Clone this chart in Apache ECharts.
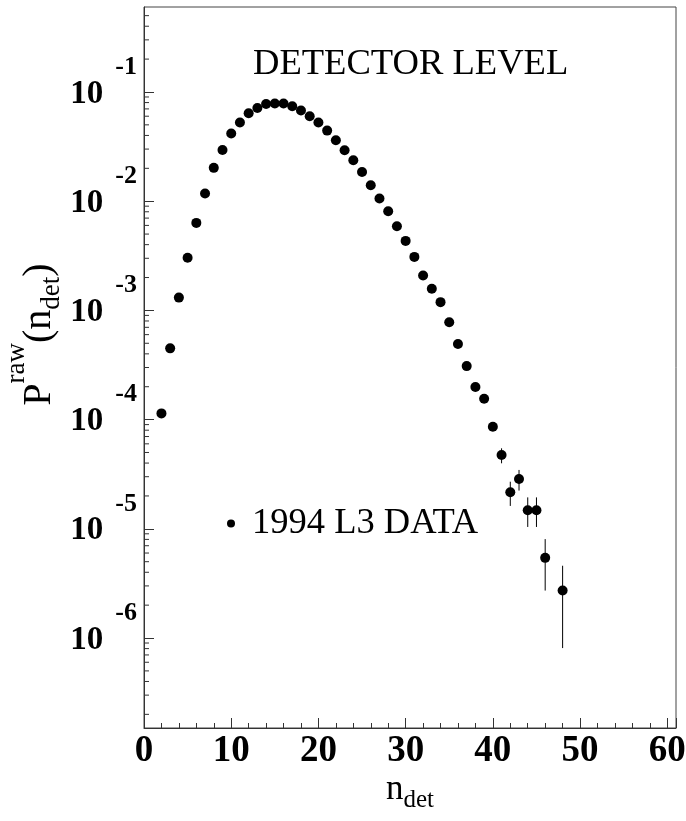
<!DOCTYPE html>
<html>
<head>
<meta charset="utf-8">
<script src="https://cdn.jsdelivr.net/npm/echarts@6/dist/echarts.min.js"></script>
<style>
  html, body { margin: 0; padding: 0; background: #fff; }
  #chart { width: 686px; height: 821px; }
</style>
</head>
<body>
<div id="chart"></div>
<script>
// measured multiplicity distribution (n_det = 47 has no entry)
const nDet = [2, 3, 4, 5, 6, 7, 8, 9, 10, 11, 12, 13, 14, 15, 16, 17, 18, 19, 20, 21, 22, 23, 24, 25,
  26, 27, 28, 29, 30, 31, 32, 33, 34, 35, 36, 37, 38, 39, 40, 41, 42, 43, 44, 45, 46, 48];
const prob = [1.14e-4, 4.49e-4, 1.31e-3, 3.03e-3, 6.33e-3, 1.175e-2, 2.02e-2, 2.94e-2, 4.16e-2, 5.25e-2,
  6.38e-2, 7.14e-2, 7.77e-2, 7.83e-2, 7.83e-2, 7.40e-2, 6.76e-2, 6.00e-2, 5.25e-2, 4.43e-2, 3.62e-2,
  2.93e-2, 2.37e-2, 1.85e-2, 1.40e-2, 1.06e-2, 8.1e-3, 5.9e-3, 4.33e-3, 3.09e-3, 2.09e-3, 1.58e-3,
  1.19e-3, 7.8e-4, 4.92e-4, 3.09e-4, 1.99e-4, 1.55e-4, 8.6e-5, 4.74e-5, 2.16e-5, 2.86e-5, 1.48e-5,
  1.48e-5, 5.42e-6, 2.72e-6];

// visible error bars (the others are hidden by the markers)
const errN = [41, 42, 43, 44, 45, 46, 48];
const errLow = [3.98e-5, 1.62e-5, 2.24e-5, 1.04e-5, 1.04e-5, 2.72e-6, 8.09e-7];
const errHigh = [5.46e-5, 2.70e-5, 3.46e-5, 1.94e-5, 1.94e-5, 8.05e-6, 4.59e-6];

// axis settings
const xTicks = [0, 10, 20, 30, 40, 50, 60];
const yDecades = [-7, -6, -5, -4, -3, -2, -1];
const yMin = 1.5e-7, yMax = 0.6;

const serif = '"Liberation Serif", "DejaVu Serif", serif';

// minor ticks 2..9 x 10^n on the y axis
const yMinor = [];
yDecades.forEach(function (e) {
  for (let k = 2; k <= 9; k++) {
    const v = k * Math.pow(10, e);
    if (v > yMin && v < yMax) yMinor.push([0, v]);
  }
});

const chart = echarts.init(document.getElementById('chart'));

const option = {
  backgroundColor: '#fff',
  animation: false,
  title: {
    text: 'DETECTOR LEVEL',
    left: 253,
    top: 46,
    padding: 0,
    textStyle: { fontFamily: serif, fontSize: 36.6, fontWeight: 'normal', color: '#000', lineHeight: 36 }
  },
  legend: {
    data: ['1994 L3 DATA'],
    left: 227,
    top: 505,
    padding: 0,
    icon: 'circle',
    itemWidth: 8,
    itemHeight: 8,
    selectedMode: false,
    itemStyle: { opacity: 1 },
    textStyle: { fontFamily: serif, fontSize: 36.5, color: '#000', lineHeight: 36, padding: [0, 0, 0, 12] }
  },
  grid: {
    left: 144, right: 10, top: 7, bottom: 93,
    show: true, borderColor: '#444', borderWidth: 1,
    outerBoundsMode: 'none'
  },
  xAxis: {
    type: 'value',
    min: 0,
    max: 61,
    interval: 10,
    name: '{n|n}{d|det}',
    nameLocation: 'middle',
    nameGap: 38,
    nameMoveOverlap: false,
    nameTextStyle: {
      rich: {
        n: { fontFamily: serif, fontSize: 35, color: '#000' },
        d: { fontFamily: serif, fontSize: 25, color: '#000', padding: [22, 0, 0, 0] }
      }
    },
    axisLine: { lineStyle: { color: '#333', width: 1 } },
    axisTick: { inside: true, length: 10, lineStyle: { color: '#333' } },
    minorTick: { show: true, splitNumber: 5, length: 5, lineStyle: { color: '#333' } },
    splitLine: { show: false },
    axisLabel: {
      margin: 5,
      fontFamily: serif, fontSize: 37, fontWeight: 'bold', color: '#000',
      formatter: function (v) { return xTicks.indexOf(v) >= 0 ? String(v) : ''; }
    }
  },
  yAxis: {
    type: 'log',
    logBase: 10,
    min: yMin,
    max: yMax,
    name: '{p|P}{r|raw}{p|(n}{d|det}{p|)}',
    nameLocation: 'middle',
    nameGap: 68,
    nameMoveOverlap: false,
    nameTextStyle: {
      padding: [0, 0, 0, 66],
      rich: {
        p: { fontFamily: serif, fontSize: 40, color: '#000' },
        r: { fontFamily: serif, fontSize: 27, color: '#000', padding: [0, 0, 46, 0] },
        d: { fontFamily: serif, fontSize: 27, color: '#000', padding: [24, 0, 0, 0] }
      }
    },
    axisLine: { lineStyle: { color: '#333', width: 1 } },
    axisTick: { inside: true, length: 10, lineStyle: { color: '#333' } },
    splitLine: { show: false },
    axisLabel: {
      margin: 7,
      showMinLabel: false,
      showMaxLabel: false,
      formatter: function (v) {
        const e = Math.round(Math.log10(v));
        if (Math.abs(Math.log10(v) - e) > 0.01) return '';
        return '{b|10}{s|' + e + '}';
      },
      rich: {
        b: { fontFamily: serif, fontSize: 33, fontWeight: 'bold', color: '#000', padding: [4, 0, 0, 0] },
        s: { fontFamily: serif, fontSize: 26, fontWeight: 'bold', color: '#000', padding: [0, 0, 50, 12] }
      }
    }
  },
  series: [
    {
      type: 'custom',
      name: 'minor',
      silent: true,
      data: yMinor,
      renderItem: function (params, api) {
        const p = api.coord([api.value(0), api.value(1)]);
        return {
          type: 'line',
          shape: { x1: p[0], y1: p[1], x2: p[0] + 5, y2: p[1] },
          style: { stroke: '#333', lineWidth: 1 }
        };
      }
    },
    {
      type: 'custom',
      name: 'errors',
      silent: true,
      data: errN.map(function (n, i) { return [n, errLow[i], errHigh[i]]; }),
      renderItem: function (params, api) {
        const lo = api.coord([api.value(0), api.value(1)]);
        const hi = api.coord([api.value(0), api.value(2)]);
        return {
          type: 'line',
          shape: { x1: lo[0], y1: lo[1], x2: hi[0], y2: hi[1] },
          style: { stroke: '#000', lineWidth: 1 }
        };
      }
    },
    {
      type: 'scatter',
      name: '1994 L3 DATA',
      symbol: 'circle',
      symbolSize: 10,
      itemStyle: { color: '#000', opacity: 1 },
      data: nDet.map(function (n, i) { return [n, prob[i]]; })
    }
  ]
};

chart.setOption(option);
</script>
</body>
</html>
